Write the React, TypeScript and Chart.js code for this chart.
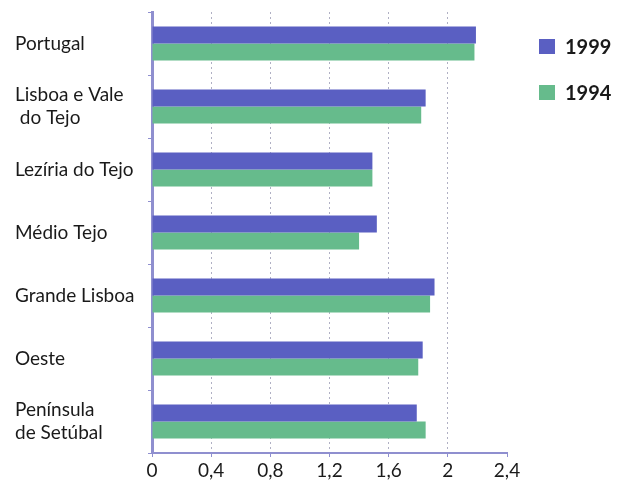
import React, { useEffect, useRef } from "react";
import { Chart, registerables } from "chart.js";

Chart.register(...registerables);

const categories: (string | string[])[] = [
  "Portugal",
  ["Lisboa e Vale", " do Tejo"],
  "Lezíria do Tejo",
  "Médio Tejo",
  "Grande Lisboa",
  "Oeste",
  ["Península", "de Setúbal"],
];
const values1999 = [2.19, 1.85, 1.49, 1.52, 1.91, 1.83, 1.79];
const values1994 = [2.18, 1.82, 1.49, 1.4, 1.88, 1.8, 1.85];
const xTickLabels = ["0", "0,4", "0,8", "1,2", "1,6", "2", "2,4"];

const FONT = "Lato, 'Open Sans', sans-serif";
const AXIS = "#8f8fcf";
const COLORS = ["#5a5fc2", "#66bb8c"];

const legendPlugin = {
  id: "sideLegend",
  afterDraw(chart: any) {
    const { ctx, chartArea } = chart;
    ctx.save();
    chart.data.datasets.forEach((ds: any, i: number) => {
      const x = chartArea.right + 32;
      const y = 39 + i * 46;
      ctx.fillStyle = ds.backgroundColor;
      ctx.fillRect(x, y, 16, 15);
      ctx.fillStyle = "#1a1a1a";
      ctx.font = `bold 20px ${FONT}`;
      ctx.textBaseline = "middle";
      ctx.textAlign = "left";
      ctx.fillText(ds.label, x + 26, y + 9);
    });
    ctx.restore();
  },
};

export default function App() {
  const ref = useRef<HTMLCanvasElement | null>(null);
  useEffect(() => {
    if (!ref.current) return;
    const chart = new Chart(ref.current, {
      type: "bar",
      data: {
        labels: categories as any,
        datasets: [
          { label: "1999", data: values1999, backgroundColor: COLORS[0], borderWidth: 0 },
          { label: "1994", data: values1994, backgroundColor: COLORS[1], borderWidth: 0 },
        ],
      },
      options: {
        indexAxis: "y",
        animation: false,
        responsive: true,
        maintainAspectRatio: false,
        datasets: { bar: { barPercentage: 1, categoryPercentage: 0.54 } },
        layout: { padding: { left: 15, top: 12, right: 110, bottom: 0 } },
        plugins: {
          tooltip: { enabled: false },
          legend: { display: false },
        },
        scales: {
          x: {
            min: 0,
            max: 2.4,
            ticks: {
              stepSize: 0.4,
              color: "#1a1a1a",
              font: { family: FONT, size: 19 },
              padding: 2,
              callback: (_v: any, i: number) => xTickLabels[i],
            },
            grid: {
              color: (ctx: any) =>
                ctx.index === 0 || ctx.index === 6 ? "rgba(0,0,0,0)" : "#b0b0c4",
              tickColor: AXIS,
              tickLength: 4,
            } as any,
            border: { color: AXIS, width: 2, dash: [2, 3] } as any,
            afterFit: (scale: any) => {
              scale.height = 42;
              scale.paddingLeft = 0;
              scale.paddingRight = 0;
            },
          },
          y: {
            offset: true,
            ticks: {
              crossAlign: "far",
              color: "#1a1a1a",
              font: { family: FONT, size: 19 },
              padding: 6,
            },
            grid: {
              drawOnChartArea: false,
              color: AXIS,
              tickLength: 4,
              offset: true,
            },
            border: { color: AXIS, width: 3 },
            afterFit: (scale: any) => {
              scale.width = 137;
              scale.paddingTop = 0;
              scale.paddingBottom = 0;
            },
          },
        },
      },
      plugins: [legendPlugin],
    });
    return () => chart.destroy();
  }, []);
  return (
    <div style={{ position: "fixed", left: 0, top: 0, width: 617, height: 495, background: "#fff" }}>
      <canvas ref={ref} />
    </div>
  );
}
